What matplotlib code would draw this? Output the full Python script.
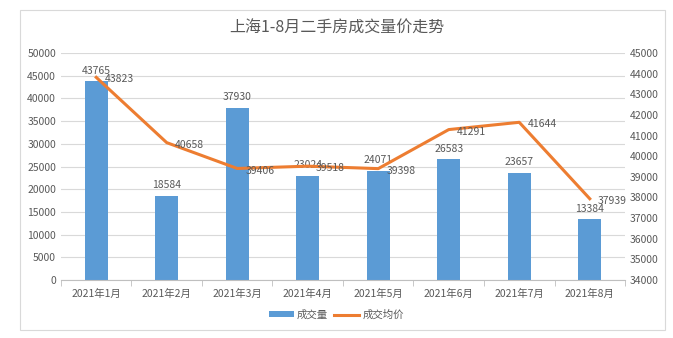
import matplotlib.pyplot as plt
import numpy as np
from matplotlib.patches import Rectangle

plt.rcParams['font.family'] = ['Noto Sans CJK SC', 'DejaVu Sans']

months = ["2021年1月", "2021年2月", "2021年3月", "2021年4月",
          "2021年5月", "2021年6月", "2021年7月", "2021年8月"]
volume = [43765, 18584, 37930, 23024, 24071, 26583, 23657, 13384]
avg_price = [43823, 40658, 39406, 39518, 39398, 41291, 41644, 37939]

bar_color = "#5B9BD5"
line_color = "#ED7D31"
text_color = "#595959"

fig = plt.figure(figsize=(6.73, 3.38), dpi=100)
fig.patches.append(Rectangle((20 / 673, 1 - 330 / 338), 645 / 673, 320 / 338,
                             transform=fig.transFigure, fill=False,
                             edgecolor="#d9d9d9", linewidth=0.8))

ax = fig.add_axes([0.0906, 0.1716, 0.8381, 0.6714])
x = np.arange(len(months))

bars = ax.bar(x, volume, width=0.32, color=bar_color, label="成交量", zorder=2)
ax.set_ylim(0, 50000)
ax.set_yticks(np.arange(0, 50001, 5000))
ax.set_xlim(-0.5, len(months) - 0.5)
ax.set_xticks(x)
ax.set_xticklabels(months)
ax.set_xticks(np.arange(-0.5, len(months), 1), minor=True)
ax.tick_params(axis="x", which="major", length=0, pad=6, labelsize=7.5, colors=text_color)
ax.tick_params(axis="x", which="minor", length=4, color="#bfbfbf")
ax.tick_params(axis="y", length=0, labelsize=7.5, colors=text_color)
ax.grid(axis="y", color="#d9d9d9", linewidth=0.8, zorder=0)
for side in ["top", "right", "left"]:
    ax.spines[side].set_visible(False)
ax.spines["bottom"].set_color("#bfbfbf")

for xi, v in zip(x, volume):
    ax.annotate(str(v), (xi, v), xytext=(0, 4), textcoords="offset points",
                ha="center", va="bottom", fontsize=7.5, color=text_color)

ax2 = ax.twinx()
line, = ax2.plot(x, avg_price, color=line_color, linewidth=2.2, label="成交均价", zorder=3)
ax2.set_ylim(34000, 45000)
ax2.set_yticks(np.arange(34000, 45001, 1000))
ax2.tick_params(axis="y", length=0, labelsize=7.5, colors=text_color)
for side in ["top", "right", "left", "bottom"]:
    ax2.spines[side].set_visible(False)

for xi, v in zip(x, avg_price):
    ax2.annotate(str(v), (xi, v), xytext=(6, -1.5), textcoords="offset points",
                 ha="left", va="center", fontsize=7.5, color=text_color)

fig.text(0.5, 1 - 28 / 338, "上海1-8月二手房成交量价走势", ha="center", va="center",
         fontsize=11.5, color=text_color)

fig.legend([bars, line], ["成交量", "成交均价"], loc="center",
           bbox_to_anchor=(0.5, 1 - 315 / 338), ncol=2, frameon=False,
           fontsize=7.5, labelcolor=text_color, handlelength=2.4,
           handleheight=0.5, columnspacing=0.6, handletextpad=0.3)

fig.savefig("out.png", dpi=100)
